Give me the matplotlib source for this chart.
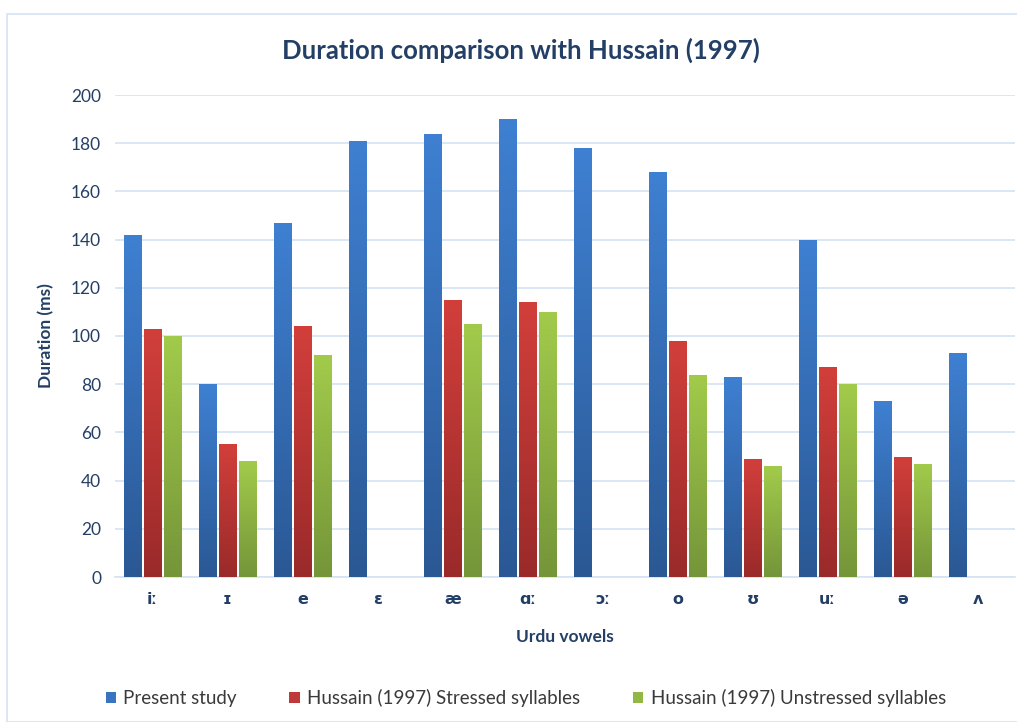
import matplotlib
matplotlib.use("Agg")
import matplotlib.pyplot as plt
import numpy as np
from matplotlib.colors import LinearSegmentedColormap
from matplotlib.patches import Rectangle

plt.rcParams['font.family'] = ['Lato', 'DejaVu Sans']

vowels = ['iː', 'ɪ', 'e', 'ɛ', 'æ', 'ɑː', 'ɔː', 'o', 'ʊ', 'uː', 'ə', 'ʌ']
present = [142, 80, 147, 181, 184, 190, 178, 168, 83, 140, 73, 93]
stressed = [103, 55, 104, 0, 115, 114, 0, 98, 49, 87, 50, 0]
unstressed = [100, 48, 92, 0, 105, 110, 0, 84, 46, 80, 47, 0]
series_names = ['Present study', 'Hussain (1997) Stressed syllables',
                'Hussain (1997) Unstressed syllables']

base_colors = ['#3A74C0', '#C0393A', '#93B745']
grad = [('#3F80D2', '#2A5894'), ('#D23F3B', '#9A2A2A'), ('#A2CB4B', '#759539')]

txt_color = '#243F66'
grid_color = '#D6E3F3'

fig = plt.figure(figsize=(10.17, 7.22), dpi=100)
fig.patches.append(Rectangle((7/1017, 0.0), 1.0, 1 - 14/722,
                             transform=fig.transFigure, fill=False,
                             edgecolor='#D6E3F3', linewidth=1.2))
ax = fig.add_axes([115/1017, 1 - 577/722, 900/1017, (577 - 95)/722])

x = np.arange(len(vowels))
width = 0.227
offsets = [-0.273, 0.0, 0.273]
data = [present, stressed, unstressed]

handles = []
for s, (vals, off) in enumerate(zip(data, offsets)):
    bars = ax.bar(x + off, vals, width, color=base_colors[s], label=series_names[s],
                  zorder=3, linewidth=0)
    handles.append(bars)
    cmap = LinearSegmentedColormap.from_list('g%d' % s, [grad[s][1], grad[s][0]])
    g = np.linspace(0, 1, 256).reshape(-1, 1)
    for b in bars:
        h = b.get_height()
        if h <= 0:
            continue
        x0 = b.get_x()
        im = ax.imshow(g, extent=[x0, x0 + b.get_width(), 0, h], origin='lower',
                       aspect='auto', cmap=cmap, zorder=4, interpolation='bilinear')
        im.set_clip_path(b)

ax.set_xlim(-0.5, len(vowels) - 0.5)
ax.set_ylim(0, 200)
ax.set_yticks(np.arange(0, 201, 20))
ax.yaxis.grid(True, color=grid_color, linewidth=1.2, zorder=0)
ax.set_axisbelow(True)
for sp in ['top', 'right', 'left']:
    ax.spines[sp].set_visible(False)
ax.spines['bottom'].set_color(grid_color)
ax.spines['bottom'].set_linewidth(1.2)
ax.tick_params(axis='both', length=0, colors=txt_color, labelsize=12.5)
ax.tick_params(axis='y', pad=10)
ax.tick_params(axis='x', pad=11)
ax.set_xticks(x)
ax.set_xticklabels(vowels, fontweight='bold', fontsize=11.5, family=['DejaVu Sans'])

ax.set_ylabel('Duration (ms)', fontweight='bold', color=txt_color, fontsize=12.5, labelpad=12)
ax.set_xlabel('Urdu vowels', fontweight='bold', color=txt_color, fontsize=12.5, labelpad=16)

fig.text(0.512, 1 - 50/722, 'Duration comparison with Hussain (1997)', ha='center',
         va='center', fontsize=18.5, fontweight='bold', color=txt_color)

leg = fig.legend(handles=handles, labels=series_names, loc='center',
                 bbox_to_anchor=(0.517, 1 - 698/722), ncol=3, frameon=False,
                 fontsize=13.5, handlelength=0.55, handleheight=0.55,
                 handletextpad=0.4, columnspacing=2.8)
for t in leg.get_texts():
    t.set_color('#3A3A3A')

fig.savefig('out.png', dpi=100)
